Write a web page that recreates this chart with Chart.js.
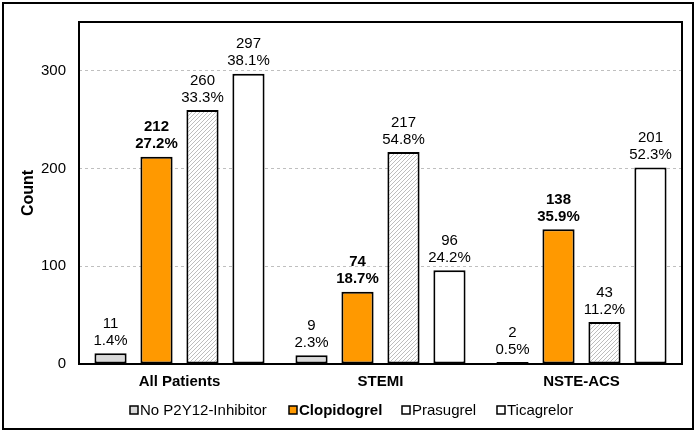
<!DOCTYPE html>
<html>
<head>
<meta charset="utf-8">
<script src="https://cdn.jsdelivr.net/npm/chart.js@4.4.1/dist/chart.umd.min.js"></script>
<style>
  html, body { margin: 0; padding: 0; background: #fff; }
  #wrap { position: relative; width: 700px; height: 434px; }
</style>
</head>
<body>
<div id="wrap"><canvas id="c" width="700" height="434"></canvas></div>
<script>
const categories = ['All Patients', 'STEMI', 'NSTE-ACS'];
const seriesNames = ['No P2Y12-Inhibitor', 'Clopidogrel', 'Prasugrel', 'Ticagrelor'];
const noInhibitor = [11, 9, 2];
const clopidogrel = [212, 74, 138];
const prasugrel   = [260, 217, 43];
const ticagrelor  = [297, 96, 201];
const pctNo    = ['1.4%', '2.3%', '0.5%'];
const pctClop  = ['27.2%', '18.7%', '35.9%'];
const pctPras  = ['33.3%', '54.8%', '11.2%'];
const pctTica  = ['38.1%', '24.2%', '52.3%'];
const yTicks = [0, 100, 200, 300];

const FONT = 'Arial, "Liberation Sans", sans-serif';

// diagonal hatch for prasugrel
function hatch() {
  const p = document.createElement('canvas');
  p.width = 4; p.height = 4;
  const g = p.getContext('2d');
  g.fillStyle = '#fff';
  g.fillRect(0, 0, 4, 4);
  g.strokeStyle = '#bdbdbd';
  g.lineWidth = 1;
  g.beginPath();
  g.moveTo(0, 4); g.lineTo(4, 0);
  g.moveTo(-1, 1); g.lineTo(1, -1);
  g.moveTo(3, 5); g.lineTo(5, 3);
  g.stroke();
  return document.getElementById('c').getContext('2d').createPattern(p, 'repeat');
}

const fills = ['#d9d9d9', '#ff9900', hatch(), '#ffffff'];
const values = [noInhibitor, clopidogrel, prasugrel, ticagrelor];
const pcts = [pctNo, pctClop, pctPras, pctTica];
const boldSeries = [false, true, false, false];

const framePlugin = {
  id: 'frame',
  afterDraw(chart) {
    const ctx = chart.ctx;
    const a = chart.chartArea;
    ctx.save();
    ctx.strokeStyle = '#000';
    ctx.lineWidth = 2;
    ctx.strokeRect(3, 3, 690, 426);
    ctx.strokeRect(a.left, a.top, a.right - a.left, a.bottom - a.top);
    ctx.restore();
  }
};

const labelPlugin = {
  id: 'barLabels',
  afterDatasetsDraw(chart) {
    const ctx = chart.ctx;
    ctx.save();
    ctx.textAlign = 'center';
    ctx.textBaseline = 'bottom';
    ctx.fillStyle = '#000';
    chart.data.datasets.forEach((ds, di) => {
      const meta = chart.getDatasetMeta(di);
      ctx.font = (boldSeries[di] ? 'bold ' : '') + '15px ' + FONT;
      meta.data.forEach((bar, i) => {
        ctx.fillText(pcts[di][i], bar.x, bar.y - 5);
        ctx.fillText(String(ds.data[i]), bar.x, bar.y - 22);
      });
    });
    ctx.restore();
  }
};

const legendPlugin = {
  id: 'customLegend',
  afterDraw(chart) {
    const ctx = chart.ctx;
    const y = 410;
    const boxes = [130, 289, 402, 497];
    ctx.save();
    ctx.textBaseline = 'middle';
    ctx.textAlign = 'left';
    seriesNames.forEach((name, i) => {
      const x = boxes[i];
      ctx.fillStyle = i === 1 ? '#ff9900' : (i === 0 ? '#d9d9d9' : '#fff');
      ctx.fillRect(x, y - 4, 8, 8);
      ctx.strokeStyle = '#000';
      ctx.lineWidth = 1.5;
      ctx.strokeRect(x, y - 4, 8, 8);
      ctx.fillStyle = '#000';
      ctx.font = (boldSeries[i] ? 'bold ' : '') + '15px ' + FONT;
      ctx.fillText(name, x + 10, y + 1);
    });
    ctx.restore();
  }
};

new Chart(document.getElementById('c'), {
  type: 'bar',
  data: {
    labels: categories,
    datasets: seriesNames.map((name, i) => ({
      label: name,
      data: values[i],
      backgroundColor: fills[i],
      borderColor: '#000',
      borderWidth: 2,
      borderSkipped: false,
      categoryPercentage: 0.915,
      barPercentage: 0.7
    }))
  },
  options: {
    responsive: false,
    animation: false,
    layout: { padding: { top: 19, right: 18, left: 0, bottom: 0 } },
    plugins: {
      legend: { display: false },
      tooltip: { enabled: false }
    },
    scales: {
      x: {
        grid: { display: false, drawTicks: false },
        border: { display: false },
        ticks: { color: '#000', font: { family: FONT, size: 15, weight: 'bold' }, padding: 9 },
        afterFit(s) { s.height = 70; }
      },
      y: {
        min: 0,
        max: 350,
        afterBuildTicks(s) { s.ticks = yTicks.map(v => ({ value: v })); },
        grid: {
          color: (c) => c.tick && c.tick.value === 0 ? 'rgba(0,0,0,0)' : '#bfbfbf',
          lineWidth: 1,
          drawTicks: false
        },
        border: { display: false, dash: [3, 3] },
        ticks: { color: '#000', font: { family: FONT, size: 15 }, padding: 13 },
        title: {
          display: true,
          text: 'Count',
          color: '#000',
          font: { family: FONT, size: 16, weight: 'bold' },
          padding: { top: 19, bottom: 0 }
        },
        afterFit(s) { s.width = 79; }
      }
    }
  },
  plugins: [framePlugin, labelPlugin, legendPlugin]
});
</script>
</body>
</html>
